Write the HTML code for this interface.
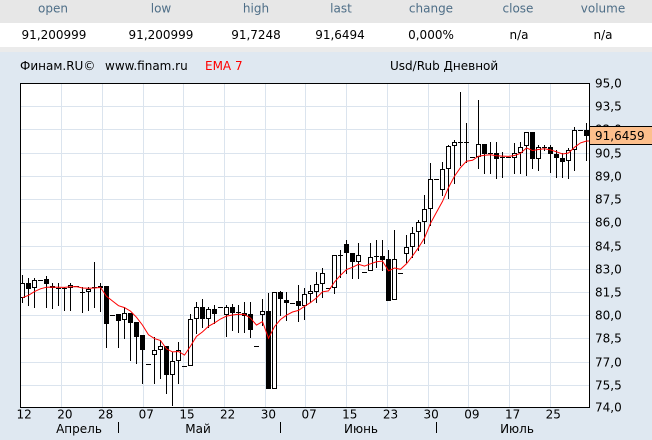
<!DOCTYPE html>
<html><head><meta charset="utf-8"><style>
html,body{margin:0;padding:0;width:652px;height:440px;overflow:hidden;background:#dfe8f1}
svg{display:block}
text{font-family:"DejaVu Sans","Liberation Sans",sans-serif;font-size:12px}
</style></head><body>
<svg id="s" width="652" height="440" viewBox="0 0 652 440" xmlns="http://www.w3.org/2000/svg">
<rect x="0" y="0" width="652" height="23" fill="#e7e7e7"/>
<rect x="0" y="23" width="652" height="24" fill="#ffffff"/>
<rect x="0" y="47" width="652" height="5" fill="#ebebeb"/>
<rect x="0" y="52" width="652" height="388" fill="#dfe8f1"/>
<g fill="#4e6e87" text-anchor="middle">
<text x="53" y="12.5">open</text><text x="161" y="12.5">low</text><text x="256" y="12.5">high</text><text x="341" y="12.5">last</text><text x="431" y="12.5">change</text><text x="518" y="12.5">close</text><text x="603" y="12.5">volume</text>
</g>
<g fill="#000" text-anchor="middle">
<text x="54" y="39">91,200999</text><text x="161" y="39">91,200999</text><text x="256" y="39">91,7248</text><text x="340" y="39">91,6494</text><text x="431" y="39">0,000%</text><text x="519" y="39">n/a</text><text x="603" y="39">n/a</text>
</g>
<text x="20" y="70" fill="#000">Финам.RU©</text>
<text x="105" y="70" fill="#000">www.finam.ru</text>
<text x="205" y="70" fill="#ff0000">EMA 7</text>
<text x="390" y="70" fill="#000">Usd/Rub Дневной</text>
<rect x="20" y="83" width="570" height="325" fill="#ffffff"/>
<g id="grid" stroke="#dbe4ee" stroke-width="1" shape-rendering="crispEdges"></g>
<g id="ylab" fill="#000"></g>
<g id="xlab" fill="#000" text-anchor="middle"></g>
<g fill="#000" text-anchor="middle">
<text x="79" y="433">Апрель</text><text x="198" y="433">Май</text><text x="361" y="433">Июнь</text><text x="517" y="433">Июль</text>
</g>
<g stroke="#000" shape-rendering="crispEdges">
<line x1="118.5" x2="118.5" y1="422" y2="433"/><line x1="280.5" x2="280.5" y1="422" y2="433"/><line x1="436.5" x2="436.5" y1="422" y2="433"/>
</g>
<g id="candles" shape-rendering="crispEdges"></g>
<polyline id="ema" fill="none" stroke="#ff0000" stroke-width="1"/>
<rect x="20.5" y="83.5" width="569" height="324" fill="none" stroke="#000" stroke-width="1" shape-rendering="crispEdges"/>
<rect x="589.5" y="126.5" width="64" height="18" fill="#fdbf8c" stroke="#000" stroke-width="1" shape-rendering="crispEdges"/>
<text x="595" y="140" fill="#000">91,6459</text>
</svg>
<script>
(function(){
var NS="http://www.w3.org/2000/svg";
function el(p,t,a,txt){var e=document.createElementNS(NS,t);for(var k in a)e.setAttribute(k,a[k]);if(txt!=null)e.textContent=txt;p.appendChild(e);return e;}
var grid=document.getElementById('grid'),ylab=document.getElementById('ylab'),xlab=document.getElementById('xlab');
var gy=[83,106,129,153,176,199,222,246,269,292,315,338,362,385,407];
var yl=["95,0","93,5","92,0","90,5","89,0","87,5","86,0","84,5","83,0","81,5","80,0","78,5","77,0","75,5","74,0"];
for(var k=0;k<gy.length;k++){
 if(k>0&&k<gy.length-1) el(grid,'line',{x1:20,x2:590,y1:gy[k]+0.5,y2:gy[k]+0.5});
 if(k!==2) el(ylab,'text',{x:595,y:gy[k]+4.5},yl[k]);
}
// draw 92,0 label (partially hidden by tag) too
el(ylab,'text',{x:595,y:gy[2]+4.5},yl[2]);
var dl=["12","20","28","07","15","22","30","07","15","23","30","09","17","25"];
for(var k=0;k<14;k++){
 var gx=20.5+40.7*k;
 if(k>0) el(grid,'line',{x1:Math.round(gx)+0.5,x2:Math.round(gx)+0.5,y1:83,y2:408});
 el(xlab,'text',{x:(gx+3.7).toFixed(1),y:418.5},dl[k]);
}
var D=[
[275,301.7,283.3,296.7,'w'],[278.3,305,283,288.3,'b'],[278.3,306.7,280.3,287,'w'],[280.3,280.3,280.3,280.3,'d'],
[276,307.3,279,282.7,'b'],[283.3,308.3,285.5,286.7,'b'],[283.3,305,287.7,287.7,'d'],[286.7,310,287.7,287.7,'d'],
[283.3,310,285,286.7,'w'],[286,286,286,286,'d'],[287.3,311.7,292.3,292.3,'d'],[286.7,310,289,291.3,'w'],
[262,306.7,287.3,287.3,'d'],[283.3,311,286,287.3,'w'],[286,346.7,286,322.7,'b'],[315,315,315,315,'d'],
[314.3,346.7,314.3,319.7,'b'],[307.3,338.3,313.3,319.3,'w'],[313.3,360,313.3,321.7,'b'],[322.3,362.7,322.3,335.7,'b'],
[335,382.7,335,348.7,'b'],[364,364,364,364,'d'],[337.3,383.3,350,354.3,'w'],[340,378.3,346,349.3,'w'],
[346,393.3,346,374.3,'b'],[351.7,405,361,374.3,'w'],[342.3,382.7,350,360.3,'w'],[366,366,366,366,'d'],
[314.3,365.3,319.3,365.3,'w'],[301.7,333.3,307.3,318.3,'w'],[299,326.7,307.3,318.3,'b'],[306.7,326.7,309.3,318.3,'w'],
[305,323.3,309.3,312.7,'b'],[307.3,307.3,307.3,307.3,'d'],[305,336,307.3,314.3,'w'],[304,330,307.3,311.7,'b'],
[305,331.7,312,312,'d'],[301.7,331.7,313.3,315,'b'],[301.7,336.7,314,329.3,'b'],[346,346,346,346,'d'],
[299,325,311,314.3,'w'],[293.3,388.3,311,388.3,'b'],[291.7,388.3,291.7,388.3,'w'],[291,315,291.7,298.3,'b'],
[291.7,320,300,302,'b'],[302.7,302.7,302.7,302.7,'d'],[285,320.7,301,305.3,'b'],[288.3,319.3,294.3,305.3,'w'],
[285,301.7,291.3,293.3,'w'],[271.7,301.7,284,290.7,'w'],[268.3,296.7,273.3,283.3,'w'],[288.3,288.3,288.3,288.3,'d'],
[255.3,293.3,255.3,287.3,'w'],[250,276.7,254.7,254.7,'d'],[240,273.3,244.3,252.3,'b'],[253.3,278.3,253.3,260.7,'b'],
[243.3,278.3,255.3,260.7,'w'],[271.7,271.7,271.7,271.7,'d'],[243.3,270,256.7,270,'w'],[240,266.7,256,256,'d'],
[240,270,255.7,259,'b'],[250,300,259.3,300,'b'],[230,299.3,259.3,299.3,'w'],[273.3,273.3,273.3,273.3,'d'],
[235,261.7,247.3,252.5,'w'],[226.7,256.7,232.5,246,'w'],[220,250,222.3,231,'w'],[195,243.3,209.3,221,'w'],
[163.3,225,179.3,208.3,'w'],[179,179,179,179,'d'],[161.7,195,169,189.3,'w'],[145,198.3,146,168.3,'w'],
[140,183.3,142,145.3,'w'],[92.3,165,141.7,141.7,'d'],[123.3,161.7,142.3,142.3,'d'],[157.3,157.3,157.3,157.3,'d'],
[100,168.3,144,156,'w'],[144,173.3,144,152.7,'b'],[141.7,173.3,153.3,153.3,'d'],[141.7,178.3,153.3,158.3,'b'],
[151.7,176.7,157.3,157.3,'d'],[157.3,157.3,157.3,157.3,'d'],[143.3,173.3,152.7,157.3,'w'],[141.7,173.3,146.7,151.7,'w'],
[131.7,175,131.7,145,'w'],[131.7,168.3,131.7,158.3,'b'],[145,170,146.7,158.3,'w'],[145,150,146.7,146.7,'d'],
[145,171.7,146.7,153.3,'b'],[150,176.7,154,157.3,'b'],[153.3,177.3,157.7,160.7,'b'],[148.3,178.3,150,160.3,'w'],
[126.7,170,130,149.3,'w'],[130,130,130,130,'d'],[123.3,160,130,135,'b']
];
var g=document.getElementById('candles'),r=Math.round,ema=297.7,pts=[];
for(var i=0;i<D.length;i++){
 var c=D[i],x=22.5+6*i,wt=c[0],wb=c[1],bt=c[2],bb=c[3],t=c[4];
 if(wb-wt>0.5) el(g,'line',{x1:x,x2:x,y1:r(wt),y2:r(wb)+1,stroke:'#000'});
 if(t==='d') el(g,'line',{x1:x-2.5,x2:x+2.5,y1:r(bt)+0.5,y2:r(bt)+0.5,stroke:'#000'});
 else if(t==='b') el(g,'rect',{x:x-2.5,y:r(bt),width:5,height:Math.max(1,r(bb)-r(bt)+1),fill:'#000'});
 else el(g,'rect',{x:x-2,y:r(bt)+0.5,width:4,height:Math.max(1,r(bb)-r(bt)),fill:'#fff',stroke:'#000'});
 var cl=(t==='b')?bb:bt;
 if(i>0) ema=ema*0.75+cl*0.25;
 pts.push(x+','+ema.toFixed(1));
}
pts.push('589,'+ema.toFixed(1));
document.getElementById('ema').setAttribute('points',pts.join(' '));
})();
</script>
</body></html>
